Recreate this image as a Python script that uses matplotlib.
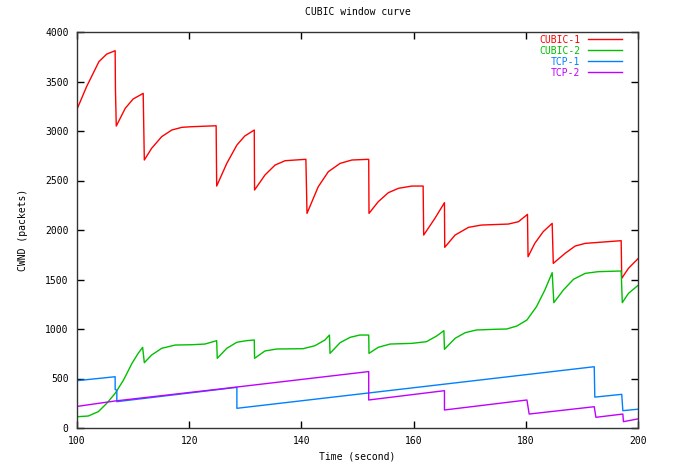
import matplotlib
matplotlib.use('Agg')
import matplotlib.pyplot as plt

# CUBIC-1
cubic1_t = [100, 101.7, 103.9, 105.3, 106.8, 106.85, 107.0, 108.6, 110.0, 111.8, 111.9, 112.0,
            113.3, 115.1, 116.9, 118.7, 120.3, 124.8, 124.9, 126.7, 128.5, 129.9, 131.6, 131.65,
            133.5, 135.3, 137.1, 140.8, 141.0, 143.0, 144.8, 146.9, 149.0, 152.0, 152.05, 153.7,
            155.5, 157.3, 159.7, 161.7, 161.75, 161.8, 163.8, 165.5, 165.55, 167.4, 169.8, 172.1,
            175.4, 176.9, 178.7, 180.3, 180.4, 181.6, 183.1, 184.7, 184.9, 187.0, 188.8, 190.6,
            197.0, 197.1, 198.3, 200]
cubic1_w = [3220, 3447, 3700, 3777, 3811, 3430, 3050, 3229, 3323, 3380, 3043, 2707,
            2825, 2943, 3010, 3037, 3043, 3053, 2444, 2673, 2858, 2949, 3010, 2404,
            2555, 2656, 2700, 2714, 2168, 2437, 2589, 2673, 2707, 2714, 2168, 2286,
            2377, 2421, 2444, 2444, 2185, 1949, 2118, 2276, 1825, 1949, 2027, 2050,
            2057, 2060, 2084, 2158, 1730, 1865, 1983, 2067, 1663, 1764, 1838, 1865,
            1892, 1512, 1613, 1710]

# CUBIC-2
cubic2_t = [100, 102.0, 103.8, 105.3, 106.8, 108.3, 109.8, 110.9, 111.7, 112.0, 113.3, 115.1,
            117.5, 120.4, 122.8, 124.9, 125.0, 126.7, 128.5, 130.2, 131.6, 131.65, 133.5, 135.6,
            140.3, 142.4, 144.2, 145.0, 145.1, 146.9, 148.7, 150.4, 152.0, 152.05, 153.7, 155.8,
            159.7, 162.3, 164.1, 165.4, 165.5, 167.4, 169.2, 171.2, 174.5, 176.6, 178.4, 180.2,
            181.9, 183.4, 184.7, 185.0, 186.7, 188.5, 190.6, 192.9, 197.0, 197.2, 198.3, 200]
cubic2_w = [114, 121, 165, 249, 350, 485, 653, 754, 815, 660, 737, 805,
            838, 841, 848, 882, 704, 805, 866, 882, 889, 704, 778, 798,
            801, 831, 889, 939, 754, 862, 916, 939, 939, 754, 815, 848,
            855, 872, 929, 983, 795, 906, 963, 990, 997, 1000, 1030, 1091,
            1225, 1394, 1569, 1266, 1394, 1502, 1562, 1579, 1586, 1266, 1360, 1440]

# TCP-1
tcp1_t = [100, 106.8, 106.8, 107.1, 107.1, 128.5, 128.5, 192.2, 192.3, 197.1, 197.3, 200]
tcp1_w = [478, 518, 390, 380, 266, 411, 199, 619, 312, 340, 175, 190]

# TCP-2
tcp2_t = [100, 106.8, 125.5, 152.0, 152.0, 165.5, 165.5, 180.2, 180.6, 192.2, 192.5, 197.3, 197.4, 200]
tcp2_w = [218, 273, 394, 570, 283, 377, 182, 283, 141, 215, 108, 141, 64, 92]

plt.rcParams['font.family'] = ['DejaVu Sans Mono']
fs = 7

fig = plt.figure(figsize=(6.85, 4.62), dpi=100)
ax = fig.add_axes([77 / 685, 34 / 462, 561 / 685, 396 / 462])

ax.plot(cubic1_t, cubic1_w, color='#ff0000', lw=1.0, label='CUBIC-1')
ax.plot(cubic2_t, cubic2_w, color='#00c000', lw=1.0, label='CUBIC-2')
ax.plot(tcp1_t, tcp1_w, color='#0080ff', lw=1.0, label='TCP-1')
ax.plot(tcp2_t, tcp2_w, color='#c000ff', lw=1.0, label='TCP-2')

ax.set_xlim(100, 200)
ax.set_ylim(0, 4000)
ax.set_xticks([100, 120, 140, 160, 180, 200])
ax.set_yticks(range(0, 4001, 500))
ax.tick_params(direction='in', top=True, right=True, length=5, width=1,
               labelsize=fs, pad=6)
for s in ax.spines.values():
    s.set_linewidth(1)
    s.set_color('#333333')

ax.set_title('CUBIC window curve', fontsize=fs, pad=12)
ax.set_xlabel('Time (second)', fontsize=fs, labelpad=4)
ax.set_ylabel('CWND (packets)', fontsize=fs, labelpad=12)

leg = ax.legend(loc='upper right', bbox_to_anchor=(0.982, 1.008), frameon=False,
                markerfirst=False, labelcolor='linecolor', fontsize=fs,
                handlelength=3.5, labelspacing=0.1, handletextpad=0.8,
                borderaxespad=0.2)

fig.savefig('out.png', dpi=100)
